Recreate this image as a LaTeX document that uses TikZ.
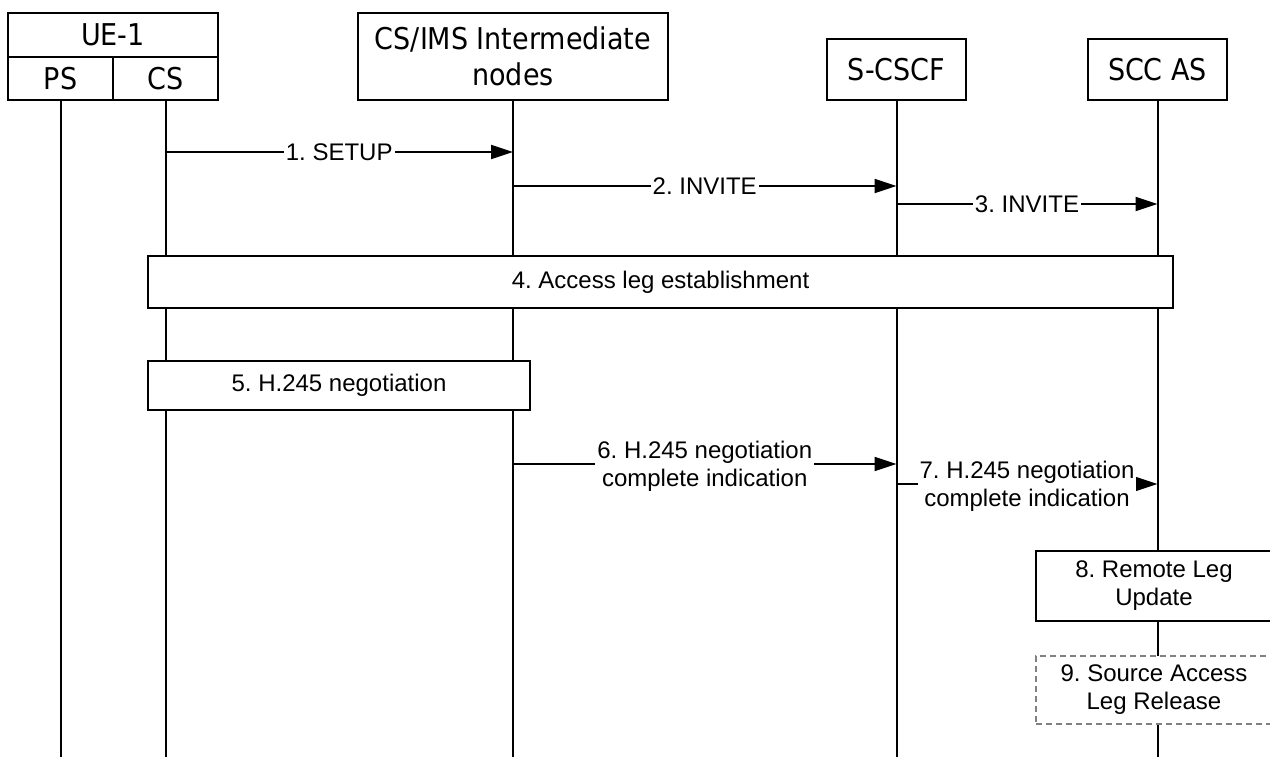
\documentclass[tikz,border=0pt]{standalone}
\usepackage{fontspec}
\setmainfont{Liberation Sans}
\newfontfamily\hdrfont{DejaVu Sans Condensed}
\usetikzlibrary{arrows.meta}
\tikzset{
  every picture/.style={x=1pt,y=-1pt},
  hdr/.style={draw, line width=2pt, fill=white, inner sep=0pt, font=\hdrfont\fontsize{30}{36}\selectfont, align=center},
  life/.style={line width=2pt},
  msg/.style={line width=2pt, -{Triangle[length=22pt,width=14pt]}},
  lbl/.style={fill=white, inner xsep=2pt, inner ysep=1pt, font=\frenchspacing\fontsize{24}{28}\selectfont, align=center, text height=17pt, text depth=0pt},
  lbltwo/.style={lbl, text height=45pt},
  procbox/.style={draw, line width=2pt, fill=white, inner sep=0pt, font=\frenchspacing\fontsize{24}{28}\selectfont, align=center},
  optbox/.style={procbox, draw=black!50, line width=1.5pt, dash pattern=on 6pt off 4pt}
}
\begin{document}
\begin{tikzpicture}
\useasboundingbox (0,0) rectangle (1270,756);
% headers
\node[hdr, minimum width=210pt, minimum height=44pt] (ue) at (113,35) {UE-1};
\node[hdr, minimum width=105pt, minimum height=43pt] (ps) at (60.5,78.5) {PS};
\node[hdr, minimum width=105pt, minimum height=43pt] (cs) at (165.5,78.5) {CS};
\node[hdr, minimum width=310pt, minimum height=87pt] (ims) at (513,56.5) {CS/IMS Intermediate\\nodes};
\node[hdr, minimum width=139pt, minimum height=61pt] (scscf) at (896.5,69.5) {S-CSCF};
\node[hdr, minimum width=139pt, minimum height=61pt] (sccas) at (1157.5,69.5) {SCC AS};
% lifeline ends
\coordinate (psE) at (60.5,760);
\coordinate (csE) at (165.5,760);
\coordinate (imsE) at (513,760);
\coordinate (scscfE) at (896.5,760);
\coordinate (sccasE) at (1157.5,760);
\draw[life] (ps.south) -- (psE);
\draw[life] (cs.south) -- (csE);
\draw[life] (ims.south) -- (imsE);
\draw[life] (scscf.south) -- (scscfE);
\draw[life] (sccas.south) -- (sccasE);
% message end points
\coordinate (m1a) at (165.5,152);  \coordinate (m1b) at (513,152);
\coordinate (m2a) at (513,186);    \coordinate (m2b) at (896.5,186);
\coordinate (m3a) at (896.5,204);  \coordinate (m3b) at (1157.5,204);
\coordinate (m6a) at (513,464);    \coordinate (m6b) at (896.5,464);
\coordinate (m7a) at (896.5,484);  \coordinate (m7b) at (1157.5,484);
\draw[msg] (m1a) -- node[lbl] {1. SETUP} (m1b);
\draw[msg] (m2a) -- node[lbl] {2. INVITE} (m2b);
\draw[msg] (m3a) -- node[lbl] {3. INVITE} (m3b);
\draw[msg] (m6a) -- node[lbltwo] {6. H.245 negotiation\\complete indication} (m6b);
\draw[msg] (m7a) -- node[lbltwo] {7. H.245 negotiation\\complete indication} (m7b);
% process boxes
\node[procbox, minimum width=1025pt, minimum height=52pt] (p4) at (660.5,282) {4. Access leg establishment};
\node[procbox, minimum width=382pt, minimum height=49pt] (p5) at (339,385.5) {5. H.245 negotiation};
\node[procbox, minimum width=236pt, minimum height=70pt] (p8) at (1154,586) {8. Remote Leg\\Update};
\node[optbox, minimum width=236pt, minimum height=68pt] (p9) at (1154,690) {9. Source Access\\Leg Release};
\end{tikzpicture}
\end{document}
